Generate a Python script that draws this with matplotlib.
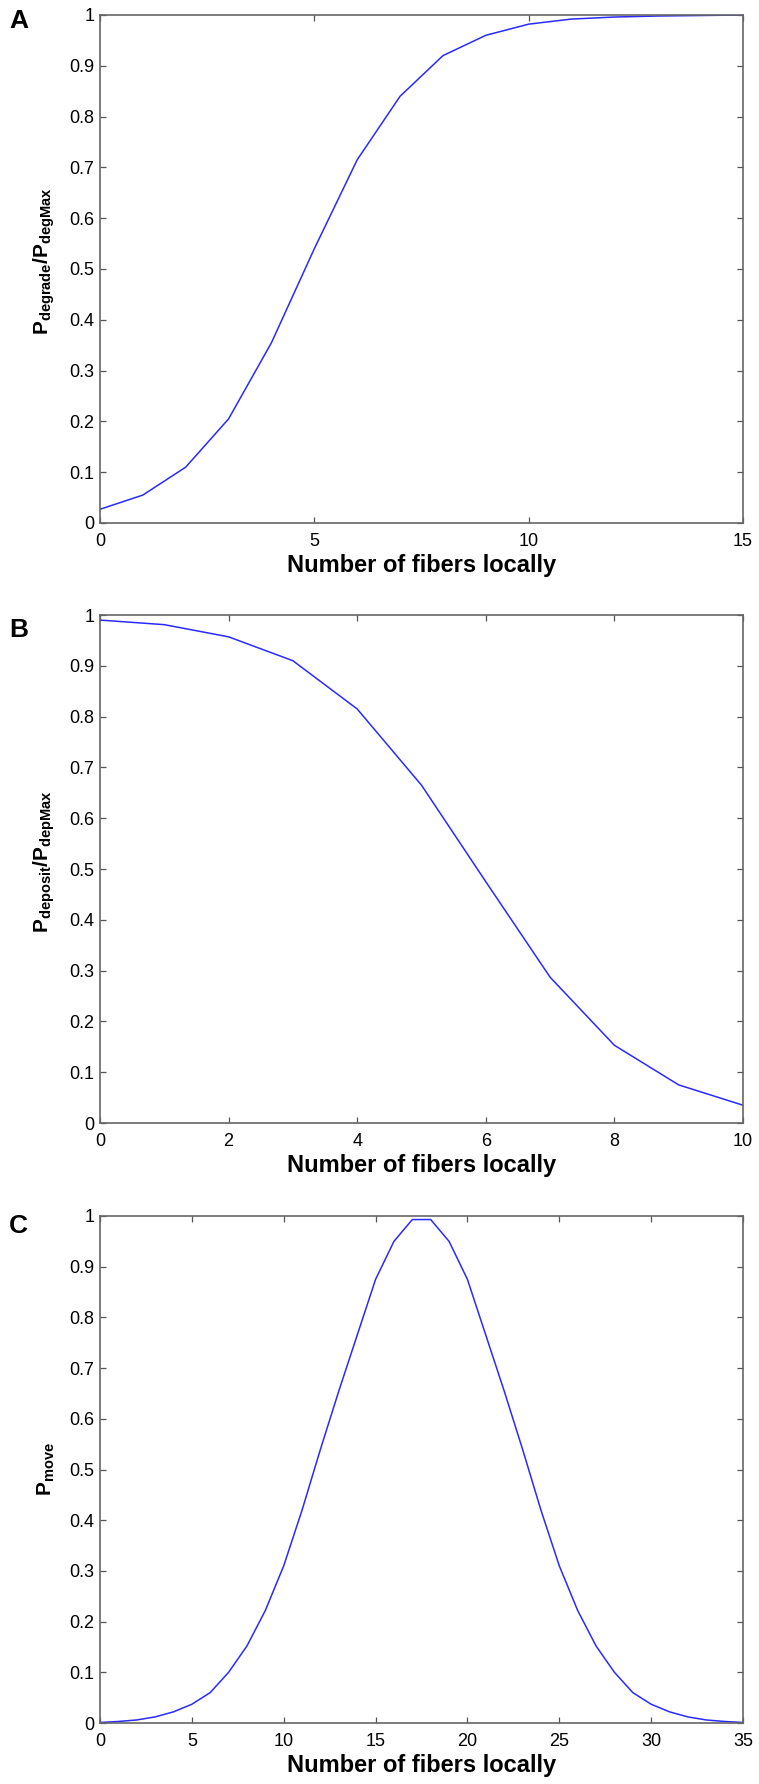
import matplotlib
matplotlib.use('Agg')
import matplotlib.pyplot as plt
from matplotlib.ticker import FormatStrFormatter, MultipleLocator

plt.rcParams['font.family'] = ['Liberation Sans', 'DejaVu Sans']
plt.rcParams['mathtext.fontset'] = 'custom'
plt.rcParams['mathtext.rm'] = 'Liberation Sans'
plt.rcParams['mathtext.bf'] = 'Liberation Sans:bold'
plt.rcParams['mathtext.it'] = 'Liberation Sans:italic'

# panel A: degradation probability
fibers_a = list(range(16))
p_degrade = [0.027, 0.055, 0.11, 0.205, 0.355, 0.54, 0.715, 0.84, 0.92, 0.96,
             0.982, 0.992, 0.996, 0.998, 0.999, 1.0]

# panel B: deposition probability
fibers_b = list(range(11))
p_deposit = [0.99, 0.981, 0.957, 0.91, 0.815, 0.665, 0.475, 0.287, 0.153, 0.075, 0.035]

# panel C: move probability
fibers_c = list(range(36))
p_move = [0.001, 0.003, 0.006, 0.012, 0.022, 0.037, 0.06, 0.1, 0.152, 0.222,
          0.31, 0.42, 0.54, 0.655, 0.765, 0.875, 0.95, 0.993, 0.993, 0.95,
          0.875, 0.765, 0.655, 0.54, 0.42, 0.31, 0.222, 0.152, 0.1, 0.06,
          0.037, 0.022, 0.012, 0.006, 0.003, 0.001]

panels = [
    ('A', fibers_a, p_degrade, 15, 5, r'$\mathbf{P_{degrade}/P_{degMax}}$', 0.515),
    ('B', fibers_b, p_deposit, 10, 2, r'$\mathbf{P_{deposit}/P_{depMax}}$', 0.515),
    ('C', fibers_c, p_move, 35, 5, r'$\mathbf{P_{move}}$', 0.5),
]

fig = plt.figure(figsize=(7.59, 17.84), dpi=100)
W, H = 759.0, 1784.0
boxes = [(15, 523), (615, 1123), (1216, 1723)]
letter_y = [21, 630, 1226]
left, right = 100, 743

for (letter, x, y, xmax, xstep, ylab, ypos), (top, bot), ly in zip(panels, boxes, letter_y):
    ax = fig.add_axes([left / W, 1 - bot / H, (right - left) / W, (bot - top) / H])
    ax.plot(x, y, color='#2a2aff', lw=1.1)
    ax.set_xlim(0, xmax)
    ax.set_ylim(0, 1)
    ax.xaxis.set_major_locator(MultipleLocator(xstep))
    ax.yaxis.set_major_locator(MultipleLocator(0.1))
    ax.yaxis.set_major_formatter(FormatStrFormatter('%g'))
    ax.tick_params(direction='in', top=True, right=True, length=4.5, width=0.9,
                   color='#555555', labelsize=13)
    ax.tick_params(axis='x', pad=7)
    ax.tick_params(axis='y', pad=4)
    for s in ax.spines.values():
        s.set_color('#666666')
        s.set_linewidth(1.2)
    ax.set_xlabel('Number of fibers locally', fontsize=17, fontweight='bold', labelpad=3)
    ax.set_ylabel(ylab, fontsize=15, labelpad=9)
    ax.yaxis.label.set_y(ypos)
    fig.text(9 / W, 1 - ly / H, letter, fontsize=19, fontweight='bold',
             va='center', ha='left')

fig.savefig('out.png', dpi=100)
